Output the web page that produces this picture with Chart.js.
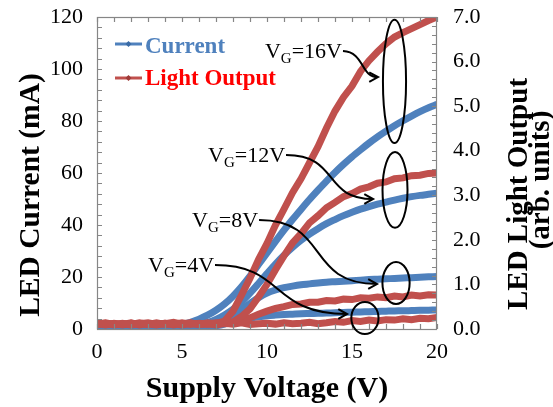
<!DOCTYPE html>
<html>
<head>
<meta charset="utf-8">
<script src="https://cdn.jsdelivr.net/npm/chart.js@4/dist/chart.umd.min.js"></script>
<style>
html,body{margin:0;padding:0;background:#fff;}
#wrap{width:553px;height:407px;position:relative;overflow:hidden;}
canvas{display:block;}
</style>
</head>
<body>
<div id="wrap"><canvas id="c" width="553" height="407"></canvas></div>
<script>
// ---------- data ----------
const voltage = [0,0.5,1,1.5,2,2.5,3,3.5,4,4.5,5,5.5,6,6.5,7,7.5,8,8.5,9,9.5,10,10.5,11,11.5,12,12.5,13,13.5,14,14.5,15,15.5,16,16.5,17,17.5,18,18.5,19,19.5,20];

// LED current (mA), left axis
const currentVG4  = [0.2,0.2,0.2,0.2,0.2,0.2,0.2,0.2,0.2,0.2,0.2,0.3,0.4,0.7,1.2,1.9,2.7,3.5,4.2,4.7,5.1,5.35,5.55,5.7,5.85,5.95,6.05,6.15,6.25,6.35,6.45,6.55,6.65,6.75,6.85,6.95,7.0,7.1,7.2,7.25,7.3];
const currentVG8  = [0.2,0.2,0.2,0.2,0.2,0.2,0.2,0.2,0.2,0.3,0.4,0.5,0.9,1.5,2.4,3.7,5.4,7.5,9.8,12.0,13.8,15.0,15.9,16.5,17.0,17.35,17.7,18.0,18.2,18.4,18.6,18.8,19.0,19.15,19.3,19.45,19.6,19.75,19.9,20.05,20.2];
const currentVG12 = [0.2,0.2,0.2,0.2,0.2,0.2,0.2,0.2,0.3,0.4,0.6,1.0,1.6,2.5,3.7,5.4,7.6,10.4,13.8,17.5,21.3,25.0,28.4,31.4,34.1,36.5,38.6,40.5,42.1,43.6,44.9,46.1,47.1,48.0,48.8,49.6,50.3,50.9,51.4,51.8,52.2];
const currentVG16 = [0.3,0.3,0.3,0.3,0.3,0.3,0.3,0.4,0.6,1.0,1.7,2.6,3.8,5.3,7.2,9.6,12.6,16.2,20.3,24.8,29.3,33.7,38.0,42.1,46.0,49.8,53.4,56.9,60.2,63.3,66.2,68.9,71.5,73.9,76.1,78.2,80.1,81.9,83.6,85.1,86.4];

// LED light output (arb. units), right axis
const lightVG4  = [0.12,0.09,0.13,0.10,0.14,0.09,0.12,0.11,0.13,0.09,0.12,0.14,0.10,0.12,0.09,0.13,0.11,0.14,0.10,0.12,0.13,0.11,0.14,0.12,0.13,0.15,0.12,0.14,0.17,0.15,0.19,0.17,0.20,0.18,0.21,0.20,0.23,0.21,0.24,0.23,0.26];
const lightVG8  = [0.10,0.13,0.09,0.12,0.10,0.14,0.11,0.09,0.13,0.11,0.14,0.10,0.13,0.11,0.14,0.12,0.13,0.18,0.25,0.33,0.40,0.46,0.50,0.55,0.56,0.60,0.60,0.64,0.63,0.67,0.66,0.70,0.69,0.72,0.70,0.74,0.72,0.76,0.74,0.77,0.76];
const lightVG12 = [0.13,0.10,0.12,0.09,0.13,0.11,0.10,0.14,0.10,0.12,0.09,0.13,0.11,0.12,0.10,0.13,0.16,0.28,0.45,0.72,1.00,1.33,1.64,1.93,2.14,2.38,2.54,2.72,2.84,2.97,3.04,3.14,3.19,3.27,3.30,3.37,3.39,3.44,3.45,3.49,3.50];
const lightVG16 = [0.11,0.14,0.10,0.13,0.09,0.12,0.14,0.10,0.12,0.15,0.11,0.13,0.10,0.14,0.12,0.18,0.40,0.76,1.14,1.56,1.92,2.33,2.69,3.06,3.37,3.73,4.09,4.51,4.89,5.20,5.45,5.78,6.02,6.22,6.40,6.55,6.65,6.74,6.83,6.92,7.00];

// axis ticks
const xTicks = [0,5,10,15,20];
const currentTicks = [0,20,40,60,80,100,120];
const lightTicks = [0,1,2,3,4,5,6,7];

// annotation texts
const gateLabels = ['16V','12V','8V','4V'];

// ---------- styles / annotation geometry (data units) ----------
const FONT = "'Liberation Serif','Times New Roman',serif";
const BLUE = '#4F81BD';
const RED = '#C0504D';
const FRAME = '#868686';

const labelAt = [[9.88,104.2],[6.53,64.2],[5.59,39.2],[3.0,21.9]];           // text start / baseline
const arrowCurve = [ // c1, c2, end
  [[15.76,106.5],[15.47,96.9],[16.53,96.9]],
  [[14.29,66.9],[13.24,50.0],[16.24,50.0]],
  [[13.71,41.9],[12.24,17.3],[16.47,17.3]],
  [[11.06,24.6],[10.18,5.77],[14.71,5.77]]
];
const ellipseAt = [ // cx, cy, rx, ry
  [17.50,95.2,0.68,23.7],
  [17.53,53.5,0.735,14.6],
  [17.59,17.7,0.80,8.1],
  [15.76,4.23,0.80,6.2]
];

const pts = ys => voltage.map((v,i)=>({x:v,y:ys[i]}));

const decor = {
  id:'decor',
  afterDraw(chart){
    const ctx = chart.ctx;
    const xs = chart.scales.x, ys = chart.scales.y, ys1 = chart.scales.y1;
    const a = chart.chartArea;
    ctx.save();
    // frame
    ctx.strokeStyle = FRAME; ctx.lineWidth = 1.2;
    ctx.strokeRect(a.left+0.5, a.top+0.5, a.right-a.left-1, a.bottom-a.top);
    // ticks
    ctx.beginPath();
    for(let v=0; v<=20; v+=1){
      const p = Math.round(xs.getPixelForValue(v))+0.5;
      ctx.moveTo(p,a.bottom); ctx.lineTo(p,a.bottom-5);
      ctx.moveTo(p,a.top); ctx.lineTo(p,a.top+5);
    }
    for(let m=0; m<=120; m+=4){
      const p = Math.round(ys.getPixelForValue(m))+0.5;
      ctx.moveTo(a.left,p); ctx.lineTo(a.left+5,p);
    }
    for(let k=0; k<=35; k++){
      const p = Math.round(ys1.getPixelForValue(k*0.2))+0.5;
      ctx.moveTo(a.right,p); ctx.lineTo(a.right-5,p);
    }
    ctx.stroke();

    // axis titles
    ctx.fillStyle = '#000';
    ctx.textAlign = 'center'; ctx.textBaseline = 'alphabetic';
    ctx.font = `bold 30px ${FONT}`;
    ctx.fillText('Supply Voltage (V)', (a.left+a.right)/2, 397);
    ctx.save();
    ctx.translate(39,195); ctx.rotate(-Math.PI/2);
    ctx.font = `bold 29.5px ${FONT}`;
    ctx.fillText('LED Current (mA)',0,0);
    ctx.restore();
    ctx.save();
    ctx.translate(527,194); ctx.rotate(-Math.PI/2);
    ctx.font = `bold 29px ${FONT}`;
    ctx.fillText('LED Light Output',0,0);
    ctx.fillText('(arb. units)',14,22);
    ctx.restore();

    // legend
    ctx.lineWidth = 3;
    [[BLUE,'#3a6aa5',44,'Current','#4F81BD',53],[RED,'#9e3a38',78,'Light Output','#FF0000',85]].forEach(([lc,mc,ly,txt,tc,tb])=>{
      ctx.strokeStyle = lc;
      ctx.beginPath(); ctx.moveTo(115,ly); ctx.lineTo(142,ly); ctx.stroke();
      ctx.fillStyle = mc;
      ctx.beginPath(); ctx.moveTo(128.5,ly-3); ctx.lineTo(131.5,ly); ctx.lineTo(128.5,ly+3); ctx.lineTo(125.5,ly); ctx.closePath(); ctx.fill();
      ctx.fillStyle = tc; ctx.textAlign='left';
      ctx.font = `bold 23px ${FONT}`;
      ctx.fillText(txt,145,tb);
    });

    // gate-voltage annotations
    ctx.fillStyle = '#000'; ctx.strokeStyle = '#000'; ctx.lineWidth = 2;
    ctx.textAlign = 'left'; ctx.textBaseline = 'alphabetic';
    gateLabels.forEach((lab,i)=>{
      let x = xs.getPixelForValue(labelAt[i][0]);
      const b = ys.getPixelForValue(labelAt[i][1]);
      ctx.font = `22px ${FONT}`; ctx.fillText('V',x,b); x += ctx.measureText('V').width;
      ctx.font = `15px ${FONT}`; ctx.fillText('G',x,b+5); x += ctx.measureText('G').width;
      ctx.font = `22px ${FONT}`; ctx.fillText('='+lab,x,b); x += ctx.measureText('='+lab).width;
      const sx = x+1, sy = b-7;
      const [c1,c2,e] = arrowCurve[i].map(([vx,vy])=>[xs.getPixelForValue(vx), ys.getPixelForValue(vy)]);
      ctx.beginPath(); ctx.moveTo(sx,sy); ctx.bezierCurveTo(c1[0],c1[1],c2[0],c2[1],e[0],e[1]); ctx.stroke();
      const ang = Math.atan2(e[1]-c2[1], e[0]-c2[0]);
      ctx.beginPath();
      ctx.moveTo(e[0]-10*Math.cos(ang-0.5), e[1]-10*Math.sin(ang-0.5));
      ctx.lineTo(e[0],e[1]);
      ctx.lineTo(e[0]-10*Math.cos(ang+0.5), e[1]-10*Math.sin(ang+0.5));
      ctx.stroke();
      const [cx,cy,rx,ry] = ellipseAt[i];
      const px = xs.getPixelForValue(cx), py = ys.getPixelForValue(cy);
      const prx = Math.abs(xs.getPixelForValue(cx+rx)-px), pry = Math.abs(ys.getPixelForValue(cy+ry)-py);
      ctx.beginPath(); ctx.ellipse(px,py,prx,pry,0,0,Math.PI*2); ctx.stroke();
    });
    ctx.restore();
  }
};

const tickFont = {family:FONT, size:22};
const lightSet = (d)=>({data:pts(d), yAxisID:'y1', borderColor:RED, borderWidth:7, pointRadius:0, tension:0, order:1, fill:false});
const currSet = (d)=>({data:pts(d), yAxisID:'y', borderColor:BLUE, borderWidth:7, pointRadius:0, cubicInterpolationMode:'monotone', order:2, fill:false});

new Chart(document.getElementById('c'), {
  type:'line',
  data:{datasets:[
    lightSet(lightVG16), lightSet(lightVG12), lightSet(lightVG8), lightSet(lightVG4),
    currSet(currentVG16), currSet(currentVG12), currSet(currentVG8), currSet(currentVG4)
  ]},
  options:{
    responsive:false, animation:false, devicePixelRatio:1,
    layout:{padding:{top:17,left:0,right:0,bottom:0}},
    plugins:{legend:{display:false}, tooltip:{enabled:false}},
    scales:{
      x:{type:'linear', min:0, max:20,
         afterBuildTicks(s){ s.ticks = xTicks.map(v=>({value:v})); },
         ticks:{font:tickFont, color:'#000', padding:10, maxRotation:0},
         grid:{display:false, drawTicks:false}, border:{display:false},
         afterFit(s){ s.height = 78; s.paddingLeft = 0; s.paddingRight = 0; }},
      y:{position:'left', min:0, max:120,
         afterBuildTicks(s){ s.ticks = currentTicks.map(v=>({value:v})); },
         ticks:{font:tickFont, color:'#000', padding:14},
         grid:{display:false, drawTicks:false}, border:{display:false},
         afterFit(s){ s.width = 97; s.paddingTop = 0; s.paddingBottom = 0; }},
      y1:{position:'right', min:0, max:7,
         afterBuildTicks(s){ s.ticks = lightTicks.map(v=>({value:v})); },
         ticks:{font:tickFont, color:'#000', padding:16, callback:v=>Number(v).toFixed(1)},
         grid:{display:false, drawTicks:false}, border:{display:false},
         afterFit(s){ s.width = 116; s.paddingTop = 0; s.paddingBottom = 0; }}
    }
  },
  plugins:[decor]
});
</script>
</body>
</html>
